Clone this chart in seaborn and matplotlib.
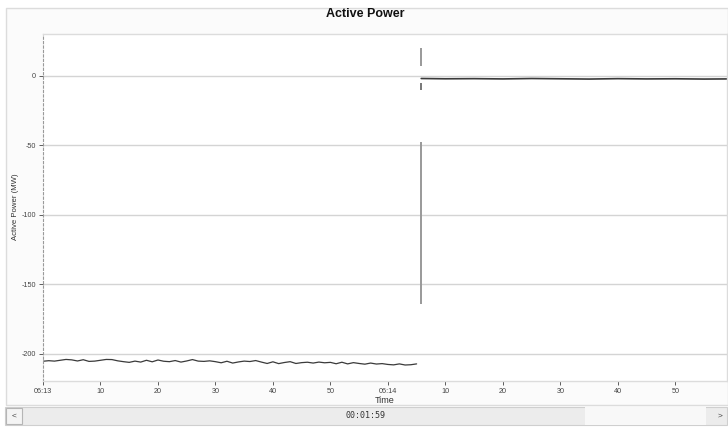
import numpy as np
import pandas as pd
import matplotlib
matplotlib.use("Agg")
import matplotlib.pyplot as plt
import seaborn as sns
from matplotlib.patches import Rectangle

# ---------------- data ----------------
# seconds after 06:13:00
t_before = list(range(0, 66))
p_before = [-205.3, -204.9, -205.2, -204.6, -204.0, -204.3, -205.1, -204.2, -205.4, -205.2,
            -204.6, -204.0, -204.1, -205.0, -205.6, -206.1, -205.2, -205.9, -204.6, -205.7,
            -204.4, -205.3, -205.6, -204.8, -205.9, -205.1, -204.1, -205.2, -205.4, -205.0,
            -205.6, -206.4, -205.3, -206.6, -205.8, -205.2, -205.5, -204.8, -205.9, -206.9,
            -205.7, -207.0, -206.2, -205.6, -206.9, -206.3, -206.0, -206.6, -205.9, -206.4,
            -206.1, -207.1, -206.0, -207.2, -206.3, -206.9, -207.4, -206.6, -207.3, -207.0,
            -207.6, -207.9, -207.2, -208.0, -207.8, -207.2]
t_after = [65.8, 70, 75, 80, 85, 90, 95, 100, 105, 110, 115, 119]
p_after = [-2.0, -2.2, -2.1, -2.3, -2.0, -2.2, -2.4, -2.1, -2.3, -2.2, -2.4, -2.3]
t_step = 65.7
step_lo = [-164.0, 7.0, -10.0]
step_hi = [-48.0, 20.0, -5.0]

x_ticks = [0, 10, 20, 30, 40, 50, 60, 70, 80, 90, 100, 110]
x_labels = ["06:13", "10", "20", "30", "40", "50", "06:14", "10", "20", "30", "40", "50"]
y_ticks = [0, -50, -100, -150, -200]
y_labels = ["0", "-50", "-100", "-150", "-200"]
title = "Active Power"
x_title = "Time"
y_title = "Active Power (MW)"
scroll_text = "00:01:59"

# ---------------- plot ----------------
sns.set_style("white")
plt.rcParams["font.family"] = ["Liberation Sans", "DejaVu Sans"]

fig = plt.figure(figsize=(7.28, 4.28), dpi=100)
fig.patch.set_facecolor("white")

W, H = 728.0, 428.0
def fx(px): return px / W
def fy(py): return 1 - py / H

# outer panel (behind everything)
fig.patches.append(Rectangle((fx(6), fy(405)), fx(728) - fx(6), fy(8) - fy(405),
                             transform=fig.transFigure, facecolor="#fbfbfb",
                             edgecolor="#dcdcdc", linewidth=1, zorder=-10))

ax = fig.add_axes([fx(43), fy(381), fx(727) - fx(43), fy(34) - fy(381)])
ax.set_zorder(1)
ax.set_facecolor("white")

df1 = pd.DataFrame({"t": t_before, "p": p_before})
df2 = pd.DataFrame({"t": t_after, "p": p_after})
sns.lineplot(data=df1, x="t", y="p", ax=ax, color="#3a3a3a", linewidth=0.9)
sns.lineplot(data=df2, x="t", y="p", ax=ax, color="#3a3a3a", linewidth=1.2)
ax.vlines([t_step] * len(step_lo), step_lo, step_hi, colors=["#999999", "#999999", "#777777"],
          linewidth=1.4)

ax.set_xlim(0, 119)
ax.set_ylim(-219.5, 30)
ax.set_xticks(x_ticks)
ax.set_xticklabels(x_labels)
ax.set_yticks(y_ticks)
ax.set_yticklabels(y_labels)
ax.tick_params(axis="both", labelsize=5.2, colors="#444444", length=3, width=0.6,
               direction="out", pad=2)
ax.tick_params(axis="x", bottom=True)
ax.tick_params(axis="y", left=True)
ax.yaxis.grid(True, color="#d4d4d4", linewidth=1.0)
ax.xaxis.grid(False)
ax.set_axisbelow(True)

for s in ["top", "right", "bottom"]:
    ax.spines[s].set_color("#dcdcdc")
    ax.spines[s].set_linewidth(1.0)
ax.spines["left"].set_color("#9a9a9a")
ax.spines["left"].set_linestyle((0, (2, 2)))
ax.spines["left"].set_linewidth(0.8)

ax.set_xlabel(x_title, fontsize=6.5, color="#333333", labelpad=1)
ax.set_ylabel("")
fig.text(fx(16), fy(207), y_title, rotation=90, ha="center", va="center",
         fontsize=5.6, color="#333333")

fig.text(fx(365), fy(14), title, ha="center", va="center", fontsize=9,
         fontweight="bold", color="#111111")

# scroll bar
fig.patches.append(Rectangle((fx(5), fy(425)), fx(727) - fx(5), fy(407) - fy(425),
                             transform=fig.transFigure, facecolor="#ececec",
                             edgecolor="#cfcfcf", linewidth=0.8, zorder=1))
fig.patches.append(Rectangle((fx(585), fy(425)), fx(706) - fx(585), fy(407) - fy(425),
                             transform=fig.transFigure, facecolor="#f8f8f8",
                             edgecolor="none", zorder=2))
fig.patches.append(Rectangle((fx(6), fy(424)), fx(22) - fx(6), fy(408) - fy(424),
                             transform=fig.transFigure, facecolor="#f4f4f4",
                             edgecolor="#b5b5b5", linewidth=0.8, zorder=2))
fig.text(fx(14), fy(416), "<", ha="center", va="center", fontsize=6, color="#444444")
fig.text(fx(720), fy(416), ">", ha="center", va="center", fontsize=6, color="#444444")
fig.text(fx(365), fy(416), scroll_text, ha="center", va="center", fontsize=6,
         color="#333333", family=["DejaVu Sans Mono", "DejaVu Sans"])

fig.savefig("out.png", dpi=100, facecolor="white")
